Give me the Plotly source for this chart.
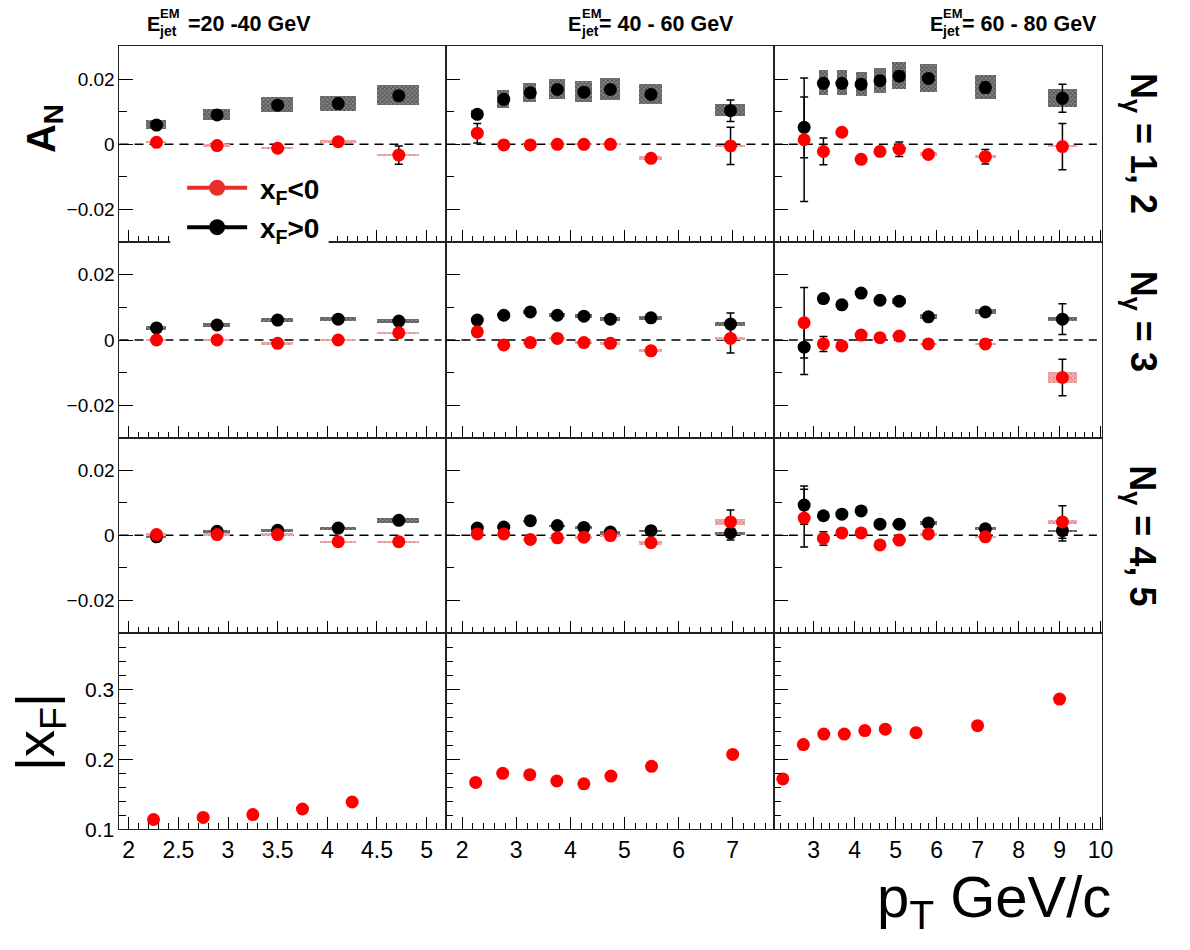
import plotly.graph_objects as go

FONT = "Liberation Sans, Arial, Helvetica, sans-serif"

# ---------------- data ----------------
# pT of the A_N points for the three E_jet^EM bins (20-40, 40-60, 60-80 GeV)
pt_an_cols = [
    [2.28, 2.89, 3.50, 4.11, 4.72],
    [2.28, 2.77, 3.26, 3.76, 4.25, 4.74, 5.49, 6.96],
    [2.77, 3.24, 3.69, 4.16, 4.62, 5.09, 5.80, 7.19, 9.07],
]
# width (in pT) of the systematic boxes
box_w_cols = [
    [0.21, 0.27, 0.32, 0.36, 0.42],
    [0.22, 0.22, 0.24, 0.29, 0.33, 0.37, 0.44, 0.55],
    [0.20, 0.22, 0.24, 0.27, 0.29, 0.34, 0.41, 0.51, 0.69],
]

# N_gamma = 1, 2
an_pos_n12 = [
    [0.0059, 0.0090, 0.0120, 0.0125, 0.0149],
    [0.0092, 0.0138, 0.0158, 0.0168, 0.0160, 0.0168, 0.0153, 0.0103],
    [0.0052, 0.0187, 0.0187, 0.0184, 0.0195, 0.0209, 0.0202, 0.0174, 0.0141],
]
an_pos_n12_stat = [
    [0.0006, 0.0006, 0.0006, 0.0006, 0.0007],
    [0.0010, 0.0008, 0.0008, 0.0008, 0.0008, 0.0008, 0.0009, 0.0033],
    [0.0093, 0.0010, 0.0010, 0.0010, 0.0012, 0.0014, 0.0014, 0.0016, 0.0043],
]
an_pos_n12_sys = [
    [0.0014, 0.0017, 0.0023, 0.0023, 0.0030],
    [0.0012, 0.0028, 0.0030, 0.0032, 0.0032, 0.0033, 0.0032, 0.0019],
    [0.0005, 0.0038, 0.0038, 0.0037, 0.0039, 0.0042, 0.0042, 0.0036, 0.0028],
]
an_neg_n12 = [
    [0.0006, -0.0004, -0.0012, 0.0008, -0.0033],
    [0.0034, -0.0002, -0.0002, 0.0000, 0.0000, 0.0000, -0.0043, -0.0005],
    [0.0014, -0.0022, 0.0037, -0.0046, -0.0022, -0.0015, -0.0031, -0.0038, -0.0007],
]
an_neg_n12_stat = [
    [0.0006, 0.0006, 0.0006, 0.0006, 0.0028],
    [0.0030, 0.0007, 0.0007, 0.0007, 0.0007, 0.0007, 0.0008, 0.0057],
    [0.0189, 0.0041, 0.0012, 0.0010, 0.0014, 0.0022, 0.0012, 0.0022, 0.0071],
]
an_neg_n12_sys = [
    [0.0003, 0.0003, 0.0003, 0.0003, 0.0003],
    [0.0003, 0.0003, 0.0003, 0.0003, 0.0003, 0.0003, 0.0005, 0.0003],
    [0.0004, 0.0004, 0.0004, 0.0004, 0.0004, 0.0004, 0.0005, 0.0005, 0.0004],
]

# N_gamma = 3
an_pos_n3 = [
    [0.0037, 0.0046, 0.0061, 0.0064, 0.0058],
    [0.0061, 0.0076, 0.0086, 0.0076, 0.0073, 0.0064, 0.0068, 0.0049],
    [-0.0022, 0.0127, 0.0108, 0.0144, 0.0122, 0.0119, 0.0071, 0.0086, 0.0064],
]
an_pos_n3_stat = [
    [0.0005, 0.0005, 0.0005, 0.0005, 0.0005],
    [0.0006, 0.0006, 0.0006, 0.0006, 0.0006, 0.0006, 0.0006, 0.0034],
    [0.0084, 0.0012, 0.0008, 0.0010, 0.0008, 0.0008, 0.0008, 0.0010, 0.0047],
]
an_pos_n3_sys = [
    [0.0006, 0.0006, 0.0007, 0.0007, 0.0006],
    [0.0005, 0.0005, 0.0006, 0.0006, 0.0006, 0.0006, 0.0006, 0.0006],
    [0.0005, 0.0006, 0.0006, 0.0009, 0.0007, 0.0008, 0.0007, 0.0008, 0.0006],
]
an_neg_n3 = [
    [0.0000, 0.0000, -0.0010, 0.0000, 0.0022],
    [0.0025, -0.0015, -0.0008, 0.0005, -0.0008, -0.0010, -0.0033, 0.0005],
    [0.0053, -0.0012, -0.0018, 0.0015, 0.0007, 0.0012, -0.0012, -0.0012, -0.0115],
]
an_neg_n3_stat = [
    [0.0005, 0.0005, 0.0005, 0.0005, 0.0010],
    [0.0006, 0.0006, 0.0006, 0.0006, 0.0006, 0.0006, 0.0006, 0.0045],
    [0.0108, 0.0023, 0.0008, 0.0008, 0.0008, 0.0008, 0.0008, 0.0008, 0.0056],
]
an_neg_n3_sys = [
    [0.0003, 0.0003, 0.0003, 0.0003, 0.0003],
    [0.0003, 0.0003, 0.0003, 0.0003, 0.0003, 0.0003, 0.0004, 0.0003],
    [0.0003, 0.0003, 0.0003, 0.0003, 0.0003, 0.0003, 0.0003, 0.0003, 0.0017],
]

# N_gamma = 4, 5
an_pos_n45 = [
    [-0.0005, 0.0012, 0.0015, 0.0022, 0.0046],
    [0.0022, 0.0025, 0.0045, 0.0030, 0.0024, 0.0010, 0.0014, 0.0007],
    [0.0093, 0.0060, 0.0065, 0.0075, 0.0034, 0.0034, 0.0038, 0.0020, 0.0014],
]
an_pos_n45_stat = [
    [0.0005, 0.0005, 0.0005, 0.0005, 0.0005],
    [0.0006, 0.0006, 0.0006, 0.0006, 0.0006, 0.0006, 0.0006, 0.0022],
    [0.0059, 0.0008, 0.0008, 0.0008, 0.0008, 0.0008, 0.0008, 0.0008, 0.0032],
]
an_pos_n45_sys = [
    [0.0003, 0.0004, 0.0004, 0.0004, 0.0009],
    [0.0003, 0.0003, 0.0003, 0.0003, 0.0004, 0.0003, 0.0004, 0.0003],
    [0.0004, 0.0004, 0.0004, 0.0004, 0.0004, 0.0004, 0.0005, 0.0005, 0.0003],
]
an_neg_n45 = [
    [0.0002, 0.0002, 0.0002, -0.0020, -0.0020],
    [0.0004, 0.0004, -0.0013, -0.0008, -0.0006, -0.0001, -0.0023, 0.0041],
    [0.0053, -0.0010, 0.0007, 0.0007, -0.0030, -0.0015, 0.0004, -0.0005, 0.0041],
]
an_neg_n45_stat = [
    [0.0005, 0.0005, 0.0005, 0.0005, 0.0005],
    [0.0006, 0.0006, 0.0006, 0.0006, 0.0006, 0.0006, 0.0006, 0.0037],
    [0.0089, 0.0021, 0.0006, 0.0006, 0.0006, 0.0006, 0.0006, 0.0006, 0.0050],
]
an_neg_n45_sys = [
    [0.0004, 0.0004, 0.0004, 0.0004, 0.0004],
    [0.0003, 0.0003, 0.0003, 0.0003, 0.0003, 0.0003, 0.0006, 0.0009],
    [0.0003, 0.0003, 0.0003, 0.0003, 0.0003, 0.0003, 0.0003, 0.0003, 0.0007],
]

# |x_F| vs pT
pt_xf_cols = [
    [2.25, 2.75, 3.25, 3.75, 4.25],
    [2.25, 2.75, 3.25, 3.75, 4.25, 4.75, 5.5, 7.0],
    [2.25, 2.75, 3.25, 3.75, 4.25, 4.75, 5.5, 7.0, 9.0],
]
xf_cols = [
    [0.114, 0.117, 0.121, 0.129, 0.139],
    [0.167, 0.180, 0.178, 0.169, 0.165, 0.176, 0.190, 0.207],
    [0.172, 0.221, 0.236, 0.236, 0.241, 0.243, 0.238, 0.248, 0.286],
]

col_titles = ["=20 -40 GeV", "= 40 - 60 GeV", "= 60 - 80 GeV"]
row_labels = ["N<sub>γ</sub> = 1, 2", "N<sub>γ</sub> = 3", "N<sub>γ</sub> = 4, 5"]

# ---------------- layout geometry ----------------
W, H = 1190, 950
X_DOM = [(120.7 / W, 451.0 / W), (451.0 / W, 781.7 / W), (781.7 / W, 1113.0 / W)]
Y_PIX = [47, 245, 443, 640, 839]
Y_DOM = [(1 - Y_PIX[i + 1] / H, 1 - Y_PIX[i] / H) for i in range(4)]
X_RNG = [[1.907, 5.2], [1.71, 7.76], [2.03, 10.03]]
X_DTICK = [0.5, 1, 1]
X_MINOR = [0.1, 0.2, 0.2]

RED = "#ff0000"
BLACK = "#000000"

fig = go.Figure()


def ax(n):
    return ("x" if n == 1 else f"x{n}"), ("y" if n == 1 else f"y{n}")


rows = [
    (an_pos_n12, an_pos_n12_stat, an_pos_n12_sys, an_neg_n12, an_neg_n12_stat, an_neg_n12_sys),
    (an_pos_n3, an_pos_n3_stat, an_pos_n3_sys, an_neg_n3, an_neg_n3_stat, an_neg_n3_sys),
    (an_pos_n45, an_pos_n45_stat, an_pos_n45_sys, an_neg_n45, an_neg_n45_stat, an_neg_n45_sys),
]

black_box = dict(color="#6a6a6a", line=dict(width=0),
                 pattern=dict(shape="x", fgcolor="#151515", bgcolor="#8a8a8a", size=3, solidity=0.5))
red_box = dict(color="#f2a0a0", line=dict(width=0),
               pattern=dict(shape="x", fgcolor="#c82828", bgcolor="#f3b8b8", size=3, solidity=0.4))

for r, (pv, ps, psy, nv, ns, nsy) in enumerate(rows):
    for c in range(3):
        n = r * 3 + c + 1
        xa, ya = ax(n)
        pt = pt_an_cols[c]
        bw = box_w_cols[c]
        # systematic boxes
        fig.add_trace(go.Bar(x=pt, y=[2 * s for s in psy[c]],
                             base=[v - s for v, s in zip(pv[c], psy[c])],
                             width=bw, marker=black_box, xaxis=xa, yaxis=ya,
                             showlegend=False, hoverinfo="skip"))
        fig.add_trace(go.Bar(x=pt, y=[2 * s for s in nsy[c]],
                             base=[v - s for v, s in zip(nv[c], nsy[c])],
                             width=bw, marker=red_box, xaxis=xa, yaxis=ya,
                             showlegend=False, hoverinfo="skip"))
        # points
        fig.add_trace(go.Scatter(x=pt, y=pv[c], mode="markers",
                                 marker=dict(color=BLACK, size=13),
                                 error_y=dict(type="data", array=ps[c], color="black",
                                              thickness=1.5, width=4),
                                 xaxis=xa, yaxis=ya, showlegend=False, hoverinfo="skip"))
        fig.add_trace(go.Scatter(x=pt, y=nv[c], mode="markers",
                                 marker=dict(color=RED, size=13),
                                 error_y=dict(type="data", array=ns[c], color="black",
                                              thickness=1.5, width=4),
                                 xaxis=xa, yaxis=ya, showlegend=False, hoverinfo="skip"))
        # dashed zero line
        fig.add_shape(type="line", xref=f"{xa} domain", yref=ya, x0=0, x1=0.985,
                      y0=0, y1=0, line=dict(color="black", width=1.5, dash="9px,6px"),
                      layer="below")

for c in range(3):
    n = 9 + c + 1
    xa, ya = ax(n)
    fig.add_trace(go.Scatter(x=pt_xf_cols[c], y=xf_cols[c], mode="markers",
                             marker=dict(color=RED, size=13),
                             xaxis=xa, yaxis=ya, showlegend=False, hoverinfo="skip"))

# legend entries
fig.add_trace(go.Scatter(x=[None], y=[None], mode="lines+markers",
                         name="\u00a0<b>x<sub>F</sub>&lt;0</b>",
                         line=dict(color="#e8302a", width=4), marker=dict(color="#e8302a", size=18)))
fig.add_trace(go.Scatter(x=[None], y=[None], mode="lines+markers",
                         name="\u00a0<b>x<sub>F</sub>&gt;0</b>",
                         line=dict(color="black", width=4), marker=dict(color="black", size=18)))

# axes
layout_axes = {}
for r in range(4):
    for c in range(3):
        n = r * 3 + c + 1
        xa, ya = ax(n)
        xk = "xaxis" if n == 1 else f"xaxis{n}"
        yk = "yaxis" if n == 1 else f"yaxis{n}"
        layout_axes[xk] = dict(
            domain=list(X_DOM[c]), range=X_RNG[c], anchor=ya,
            showline=True, mirror=True, linecolor="#222222", linewidth=1,
            ticks="inside", ticklen=12, tickwidth=1.2, tickcolor="black",
            tickmode="linear", tick0=0, dtick=X_DTICK[c],
            minor=dict(tickmode="linear", tick0=0, dtick=X_MINOR[c], ticks="inside",
                       ticklen=6, tickwidth=1, tickcolor="black"),
            showticklabels=(r == 3),
            tickfont=dict(size=23, family=FONT, color="black"),
            showgrid=False, zeroline=False, fixedrange=True,
        )
        if r < 3:
            ydict = dict(range=[-0.03, 0.03], tickmode="array",
                         tickvals=[-0.02, 0, 0.02], ticktext=["\u22120.02", "0", "0.02"],
                         minor=dict(tickmode="linear", tick0=0, dtick=0.01, ticks="inside",
                                    ticklen=8, tickwidth=1, tickcolor="black"),
                         tickfont=dict(size=19, family=FONT, color="black"))
        else:
            ydict = dict(range=[0.1, 0.381], tickmode="linear", tick0=0, dtick=0.1,
                         minor=dict(tickmode="linear", tick0=0, dtick=0.02, ticks="inside",
                                    ticklen=7, tickwidth=1, tickcolor="black"),
                         tickfont=dict(size=21, family=FONT, color="black"))
        ydict.update(dict(
            domain=list(Y_DOM[r]), anchor=xa,
            showline=True, mirror=True, linecolor="#222222", linewidth=1,
            ticks="inside", ticklen=14, tickwidth=1.2, tickcolor="black",
            showticklabels=(c == 0), showgrid=False, zeroline=False, fixedrange=True,
        ))
        layout_axes[yk] = ydict

fig.update_layout(**layout_axes)


def px(xp):
    return xp / W


def py(yp):
    return 1 - yp / H


ann = []
# column titles
title_x = [(146, 160, 188), (572, 586, 603), (937, 951, 970)]
for c in range(3):
    xe, xs, xr = title_x[c]
    ann.append(dict(x=px(xe), y=py(24), text="<b>E</b>", font=dict(size=20)))
    ann.append(dict(x=px(xs - 1), y=py(31), text="<b>jet</b>", font=dict(size=14)))
    ann.append(dict(x=px(xs), y=py(14), text="<b>EM</b>", font=dict(size=13)))
    ann.append(dict(x=px(xr), y=py(24), text="<b>" + col_titles[c] + "</b>", font=dict(size=21.5)))
for a in ann:
    a.update(xref="paper", yref="paper", xanchor="left", yanchor="middle", showarrow=False)
    a["font"].update(family=FONT, color="black")

# row labels
row_y = [145, 325, 542]
for r in range(3):
    ann.append(dict(x=px(1152), y=py(row_y[r]), xref="paper", yref="paper",
                    text="<b>" + row_labels[r] + "</b>", textangle=90, showarrow=False,
                    xanchor="center", yanchor="middle",
                    font=dict(size=36, family=FONT, color="black")))

# axis titles
ann.append(dict(x=px(45), y=py(130), xref="paper", yref="paper",
                text="<b>A<sub>N</sub></b>", textangle=-90, showarrow=False,
                xanchor="center", yanchor="middle", font=dict(size=40, family=FONT, color="black")))
ann.append(dict(x=px(40), y=py(741), xref="paper", yref="paper",
                text="|x<sub>F</sub>|", textangle=-90, showarrow=False,
                xanchor="center", yanchor="middle", font=dict(size=54, family=FONT, color="black")))
ann.append(dict(x=px(1124), y=py(912), xref="paper", yref="paper",
                text="p<sub>T</sub> GeV/c", showarrow=False,
                xanchor="right", yanchor="middle", font=dict(size=58, family=FONT, color="black")))

# white patch behind the legend (legend box hides the frame in the reference)
fig.add_shape(type="rect", xref="paper", yref="paper", x0=px(172), x1=px(332),
              y0=py(252), y1=py(165), fillcolor="white", line=dict(width=0), layer="above")

fig.update_layout(
    width=W, height=H, margin=dict(l=0, r=0, t=0, b=0),
    paper_bgcolor="white", plot_bgcolor="white",
    barmode="overlay", bargap=0,
    annotations=ann,
    showlegend=True,
    legend=dict(x=px(184), y=py(165), xanchor="left", yanchor="top",
                bgcolor="white", borderwidth=0, itemwidth=60,
                font=dict(size=28, family=FONT, color="black"),
                tracegroupgap=0),
    font=dict(family=FONT, color="black"),
)

fig.write_html("out.html")
